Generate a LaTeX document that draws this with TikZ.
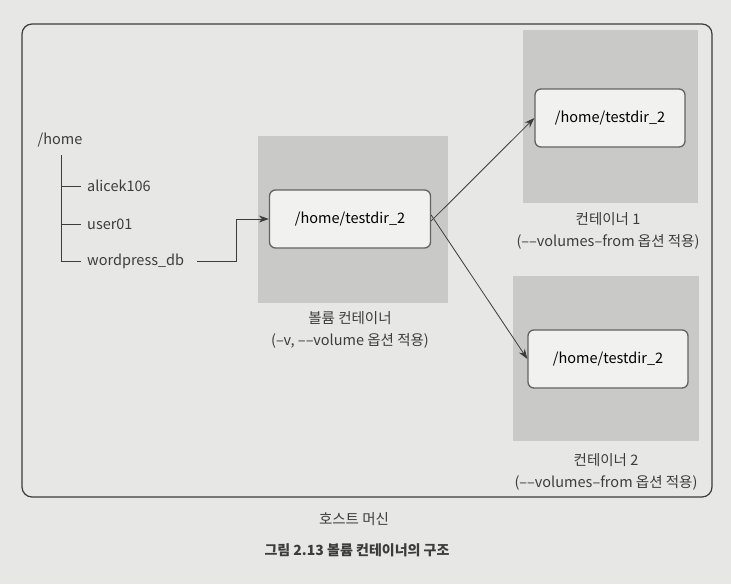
\documentclass[tikz,border=0pt]{standalone}
\usepackage{fontspec}
\setmainfont{Noto Sans CJK KR}
\usetikzlibrary{arrows.meta,positioning}
\definecolor{paper}{RGB}{231,231,229}
\definecolor{shade}{RGB}{201,201,200}
\definecolor{ink}{RGB}{60,60,60}
\tikzset{
  volbox/.style={fill=shade, draw=none, minimum width=#1},
  dirbox/.style={draw=ink!80, line width=1.3pt, rounded corners=6pt, fill=paper!60!white,
    minimum width=150pt, minimum height=58pt, font=\fontsize{14.5}{17}\selectfont},
  txt/.style={text=ink, font=\fontsize{14.5}{17}\selectfont, inner sep=1pt},
  conn/.style={draw=ink, line width=0.8pt, -{Stealth[length=10pt,width=7pt]}}
}
\begin{document}
\begin{tikzpicture}[x=1pt,y=-1pt]
      \useasboundingbox[fill=paper] (0,0) rectangle (731,584);

      % Draw the host machine frame
      \draw[ink, line width=1.2pt, rounded corners=10pt] (22,24) rectangle (712,497);

      % Draw the gray container areas
      \node[volbox=190pt, minimum height=167pt] (volarea) at (353,219) {};
      \node[volbox=175pt, minimum height=173pt] (c1area) at (610,116) {};
      \node[volbox=186pt, minimum height=165pt] (c2area) at (606,358) {};

      % Draw the directory boxes
      \node[dirbox, minimum width=161pt] (vol) at (350,219) {/home/testdir\_2};
      \node[dirbox] (c1) at (610,118) {/home/testdir\_2};
      \node[dirbox, minimum width=160pt] (c2) at (608,359) {/home/testdir\_2};

      % Add the host directory tree
      \node[txt] (home) at (60,140) {/home};
      \node[txt, anchor=west] (alice) at (86,186) {alicek106};
      \node[txt, anchor=west] (user) at (86,224) {user01};
      \node[txt, anchor=west] (wp) at (86,261) {wordpress\_db};
      \coordinate (trunk) at (61,155);
      \draw[ink, line width=0.8pt] (trunk) |- ([xshift=-5pt]wp.west);
      \foreach \n in {alice,user}
      \draw[ink, line width=0.8pt] (trunk |- \n.west) -- ([xshift=-5pt]\n.west);

      % Add the arrows between the boxes
      \draw[conn] ([xshift=12pt]wp.east) -| (236,219) -- (vol.west);
      \draw[conn] ([yshift=-2pt]vol.east) -- (c1.west);
      \draw[conn] ([yshift=4pt]vol.east) -- (c2.west);

      % Add the text
      \node[txt, align=center] (vollabel) at (350,330) {볼륨 컨테이너\\[5pt](–v, ––volume 옵션 적용)};
      \node[txt, align=center] (c1label) at (608,231) {컨테이너 1\\[5pt](––volumes–from 옵션 적용)};
      \node[txt, align=center] (c2label) at (606,472) {컨테이너 2\\[5pt](––volumes–from 옵션 적용)};
      \node[txt] (host) at (354,519) {호스트 머신};
      \node[txt, font=\fontsize{14}{16}\selectfont\bfseries] (caption) at (357,550) {그림 2.13 볼륨 컨테이너의 구조};
    \end{tikzpicture}
\end{document}
